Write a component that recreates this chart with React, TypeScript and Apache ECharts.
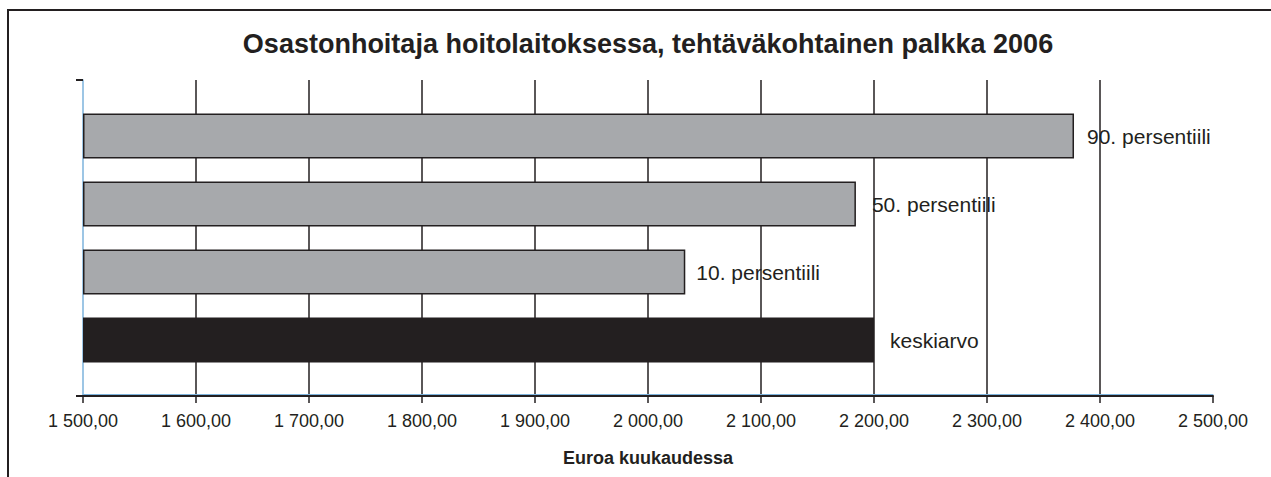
import React, { useEffect, useRef } from "react";
import * as echarts from "echarts";

const categories = ["keskiarvo", "10. persentiili", "50. persentiili", "90. persentiili"];
const values = [2200, 2033, 2184, 2377];
const barColors = ["#231f20", "#a7a9ac", "#a7a9ac", "#a7a9ac"];
const labelGaps = [16, 11, 16, 13];
const axisMin = 1500;
const axisMax = 2500;
const axisStep = 100;
const titleText = "Osastonhoitaja hoitolaitoksessa, tehtäväkohtainen palkka 2006";
const xAxisTitle = "Euroa kuukaudessa";

const FONT = "'Liberation Sans', Arial, Helvetica, sans-serif";
const INK = "#231f20";

function fmt(v: number): string {
  const th = Math.floor(v / 1000);
  const rest = Math.round(v % 1000);
  const r = String(rest).padStart(3, "0");
  return (th > 0 ? th + " " + r : String(rest)) + ",00";
}

export default function App() {
  const ref = useRef<HTMLDivElement>(null);
  useEffect(() => {
    if (!ref.current) return;
    const chart = echarts.init(ref.current, undefined, { renderer: "svg" });
    chart.setOption({
      animation: false,
      backgroundColor: "#ffffff",
      textStyle: { fontFamily: FONT },
      title: {
        text: titleText,
        left: 643,
        top: 25,
        textAlign: "center",
        textStyle: { fontSize: 27, fontWeight: "bold", color: INK, fontFamily: FONT },
      },
      graphic: [
        {
          type: "polyline",
          shape: { points: [[8, 477], [8, 10], [1271, 10]] },
          style: { stroke: INK, lineWidth: 2, fill: null },
          silent: true,
        },
      ],
      grid: [
        { left: 83, right: 58, top: 102, bottom: 103 },
        { left: 83, right: 58, top: 80, bottom: 81 },
      ],
      xAxis: [
        {
          gridIndex: 0,
          type: "value",
          min: axisMin,
          max: axisMax,
          interval: axisStep,
          startValue: axisMin,
          show: false,
        },
        {
          gridIndex: 1,
          type: "value",
          position: "bottom",
          min: axisMin,
          max: axisMax,
          interval: axisStep,
          axisLine: { show: true, lineStyle: { color: INK, width: 2 } },
          axisTick: { show: true, length: 7, lineStyle: { color: INK, width: 1.5 } },
          axisLabel: {
            formatter: (v: number) => fmt(v),
            fontSize: 18,
            color: INK,
            margin: 16,
            fontFamily: FONT,
          },
          splitLine: {
            show: true,
            showMinLine: false,
            showMaxLine: false,
            lineStyle: { color: INK, width: 1.5 },
          },
          name: xAxisTitle,
          nameLocation: "middle",
          nameGap: 53,
          nameTextStyle: { fontSize: 18, fontWeight: "bold", color: INK, fontFamily: FONT },
        },
        {
          gridIndex: 1,
          type: "value",
          position: "bottom",
          min: axisMin,
          max: axisMax,
          offset: -1.5,
          axisLine: { show: true, lineStyle: { color: "#7db3dc", width: 1 } },
          axisTick: { show: false },
          axisLabel: { show: false },
          splitLine: { show: false },
        },
      ],
      yAxis: [
        {
          gridIndex: 0,
          type: "category",
          data: categories,
          show: false,
        },
        {
          gridIndex: 1,
          type: "value",
          min: 0,
          max: 1,
          interval: 1,
          axisLine: { show: true, lineStyle: { color: "#7db3dc", width: 1.5 } },
          axisTick: { show: true, length: 7, lineStyle: { color: INK, width: 2 } },
          axisLabel: { show: false },
          splitLine: { show: false },
        },
      ],
      series: [
        {
          type: "bar",
          xAxisIndex: 0,
          yAxisIndex: 0,
          barWidth: 45,
          z: 3,
          data: values.map((v, i) => ({
            value: v,
            itemStyle: { color: barColors[i], borderColor: INK, borderWidth: 1.5 },
            label: { distance: labelGaps[i] },
          })),
          label: {
            show: true,
            position: "right",
            formatter: "{b}",
            fontSize: 21,
            color: INK,
            fontFamily: FONT,
          },
        },
      ],
    });
    return () => chart.dispose();
  }, []);
  return (
    <div
      ref={ref}
      style={{ position: "fixed", left: 0, top: 0, width: 1271, height: 477, background: "#fff" }}
    />
  );
}
